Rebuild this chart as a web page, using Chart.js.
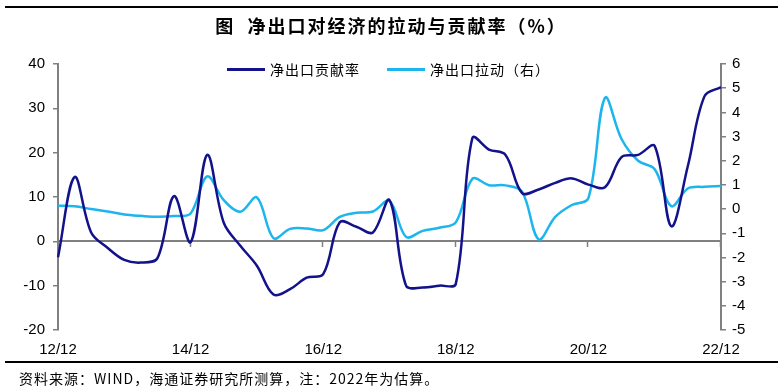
<!DOCTYPE html>
<html>
<head>
<meta charset="utf-8">
<script src="https://cdn.jsdelivr.net/npm/chart.js@4.4.1/dist/chart.umd.min.js"></script>
<style>
    body { margin: 0; background: #fff; }
    #wrap { position: relative; width: 782px; height: 390px; overflow: hidden; font-family: 'Noto Sans CJK SC', sans-serif; color: #000; }
    #chart { position: absolute; left: 0; top: 0; }
    .rule { position: absolute; left: 5px; width: 773px; height: 2px; background: #000; }
    #title { position: absolute; top: 13px; left: 0; width: 782px; text-align: center; font-size: 18px; font-weight: bold; letter-spacing: 2px; line-height: 24px; }
    .legend-item { position: absolute; top: 60px; height: 18px; display: flex; align-items: center; font-size: 14px; letter-spacing: 1px; }
    .legend-item i { display: inline-block; width: 38px; height: 3px; margin-right: 5px; }
    #source { position: absolute; left: 19px; top: 368px; font-size: 14px; letter-spacing: 1px; line-height: 20px; }
</style>
</head>
<body>
<div id="wrap">
    <canvas id="chart" width="782" height="390"></canvas>
    <div class="rule" style="top: 6px"></div>
    <div id="title">图&nbsp;&nbsp;净出口对经济的拉动与贡献率（%）</div>
    <div class="legend-item" style="left: 227px"><i style="background: #13128a"></i>净出口贡献率</div>
    <div class="legend-item" style="left: 387px"><i style="background: #1cb5ee"></i>净出口拉动（右）</div>
    <div class="rule" style="top: 361px"></div>
    <div id="source">资料来源：WIND，海通证券研究所测算，注：2022年为估算。</div>
</div>
<script>
const quarters = [
    '12/12', '13/03', '13/06', '13/09', '13/12', '14/03', '14/06', '14/09', '14/12',
    '15/03', '15/06', '15/09', '15/12', '16/03', '16/06', '16/09', '16/12',
    '17/03', '17/06', '17/09', '17/12', '18/03', '18/06', '18/09', '18/12',
    '19/03', '19/06', '19/09', '19/12', '20/03', '20/06', '20/09', '20/12',
    '21/03', '21/06', '21/09', '21/12', '22/03', '22/06', '22/09', '22/12'
]
const tickLabels = ['12/12', '14/12', '16/12', '18/12', '20/12', '22/12']

// 净出口贡献率 (left axis, %)
const contribution = [
    -3.6, 14.5, 2.0, -1.5, -4.2, -4.8, -3.8, 10.2, -0.2,
    19.5, 4.2, -1.0, -5.5, -12.0, -10.8, -8.2, -7.4,
    4.3, 3.3, 2.0, 9.3, -10.0, -10.4, -10.0, -9.6,
    23.3, 20.7, 19.5, 10.9, 11.7, 13.2, 14.2, 12.8,
    12.2, 19.0, 19.5, 21.5, 3.4, 17.0, 32.7, 34.8
]
// 净出口拉动 (right axis, pct points)
const pull = [
    0.14, 0.12, 0.0, -0.1, -0.22, -0.28, -0.32, -0.29, -0.18,
    1.35, 0.37, -0.11, 0.48, -1.2, -0.82, -0.8, -0.87,
    -0.32, -0.15, -0.1, 0.34, -1.15, -0.9, -0.77, -0.55,
    1.25, 0.99, 0.98, 0.72, -1.25, -0.32, 0.17, 0.45,
    4.6, 2.9, 2.0, 1.65, 0.12, 0.85, 0.92, 0.95
]

const axisGray = '#808080'
const tickFont = { family: "'Liberation Sans', Arial, sans-serif", size: 15 }

// zero line of the left axis plus the category tick marks hanging from it
const zeroAxis = {
    id: 'zeroAxis',
    beforeDatasetsDraw(chart) {
        const { ctx, chartArea, scales } = chart
        const y0 = Math.round(scales.y.getPixelForValue(0))
        ctx.save()
        ctx.strokeStyle = axisGray
        ctx.lineWidth = 2
        ctx.beginPath()
        ctx.moveTo(chartArea.left, y0)
        ctx.lineTo(chartArea.right, y0)
        ctx.stroke()
        ctx.lineWidth = 1.5
        quarters.forEach((q, i) => {
            if (!tickLabels.includes(q) || i === 0) return
            const x = Math.round(scales.x.getPixelForValue(i)) - 0.5
            ctx.beginPath()
            ctx.moveTo(x, y0)
            ctx.lineTo(x, y0 + 6)
            ctx.stroke()
        })
        ctx.restore()
    }
}

new Chart(document.getElementById('chart'), {
    type: 'line',
    data: {
        labels: quarters,
        datasets: [
            {
                label: '净出口贡献率',
                data: contribution,
                yAxisID: 'y',
                borderColor: '#13128a',
                borderWidth: 2.5,
                pointRadius: 0,
                tension: 0.35,
            },
            {
                label: '净出口拉动（右）',
                data: pull,
                yAxisID: 'y1',
                borderColor: '#1cb5ee',
                borderWidth: 2.5,
                pointRadius: 0,
                tension: 0.35,
            }
        ]
    },
    options: {
        responsive: false,
        animation: false,
        devicePixelRatio: 1,
        layout: { padding: { top: 64, bottom: 30, left: 0, right: 0 } },
        plugins: {
            legend: { display: false },
            tooltip: { enabled: false },
        },
        scales: {
            x: {
                type: 'category',
                offset: false,
                grid: { display: false, drawTicks: false },
                border: { display: false },
                afterFit: (scale) => { scale.height = 30 },
                ticks: {
                    autoSkip: false,
                    maxRotation: 0,
                    padding: 11,
                    color: '#000',
                    font: tickFont,
                    callback: (value, index) => tickLabels.includes(quarters[index]) ? quarters[index] : '',
                }
            },
            y: {
                position: 'left',
                min: -20,
                max: 40,
                afterFit: (scale) => { scale.width = 58 },
                grid: { drawOnChartArea: false, color: axisGray, lineWidth: 1.5, tickLength: 5 },
                border: { display: true, color: axisGray, width: 2 },
                ticks: { stepSize: 10, padding: 8, color: '#000', font: tickFont },
            },
            y1: {
                position: 'right',
                min: -5,
                max: 6,
                afterFit: (scale) => { scale.width = 61 },
                grid: { drawOnChartArea: false, color: axisGray, lineWidth: 1.5, tickLength: 5 },
                border: { display: true, color: axisGray, width: 2 },
                ticks: { stepSize: 1, padding: 6, color: '#000', font: tickFont },
            }
        }
    },
    plugins: [zeroAxis]
})
</script>
</body>
</html>
